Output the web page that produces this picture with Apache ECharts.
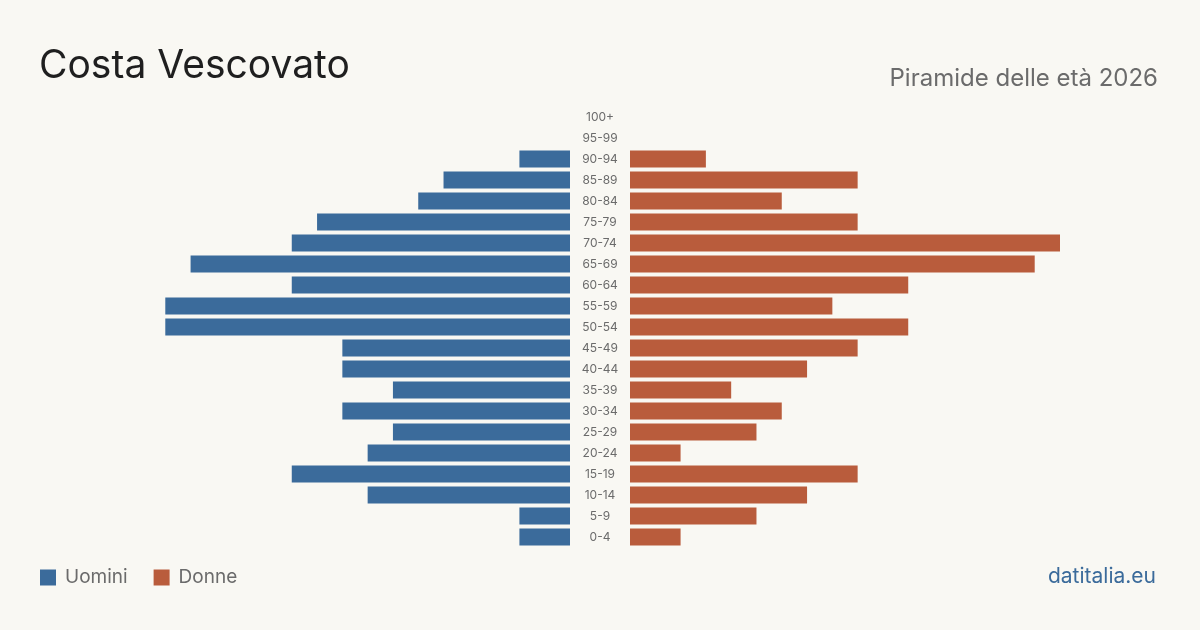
<!DOCTYPE html>
<html>
<head>
<meta charset="utf-8">
<script src="https://cdn.jsdelivr.net/npm/echarts@6/dist/echarts.min.js"></script>
<style>
html,body{margin:0;padding:0;background:#f9f8f3;}
#c{width:1200px;height:630px;}
</style>
</head>
<body>
<div id="c"></div>
<script>
const categories = ['0-4','5-9','10-14','15-19','20-24','25-29','30-34','35-39','40-44','45-49','50-54','55-59','60-64','65-69','70-74','75-79','80-84','85-89','90-94','95-99','100+'];
const uomini = [2,2,8,11,8,7,9,7,9,9,16,16,11,15,11,10,6,5,2,0,0];
const donne  = [2,5,7,9,2,5,6,4,7,9,11,8,11,16,17,9,6,9,3,0,0];
const axisMax = 17;

const FONT = 'Inter, "Noto Sans", sans-serif';
const chart = echarts.init(document.getElementById('c'), null, {renderer:'canvas'});
chart.setOption({
  backgroundColor: '#f9f8f3',
  animation: false,
  textStyle: {fontFamily: FONT},
  title: [
    {text: 'Costa Vescovato', left: 34, top: 42, textStyle: {fontFamily: FONT, fontSize: 39, fontWeight: 'normal', color: '#1f1f1f'}},
    {text: 'Piramide delle età 2026', right: 37, top: 62, textStyle: {fontFamily: FONT, fontSize: 24, fontWeight: 'normal', color: '#6b6b6b'}},
    {text: 'datitalia.eu', right: 39, top: 561, textStyle: {fontFamily: FONT, fontSize: 21, fontWeight: 'normal', color: '#3b6b9b'}}
  ],
  legend: {
    left: 35, top: 563, icon: 'rect', itemWidth: 16, itemHeight: 16, itemGap: 26,
    textStyle: {fontFamily: FONT, fontSize: 19, color: '#6b6b6b', padding: [0,0,0,4]},
    data: ['Uomini','Donne']
  },
  grid: [
    {left: 140, width: 430, top: 106.5, height: 441},
    {left: 630, width: 430, top: 106.5, height: 441}
  ],
  xAxis: [
    {gridIndex: 0, type: 'value', min: 0, max: axisMax, inverse: true, show: false},
    {gridIndex: 1, type: 'value', min: 0, max: axisMax, show: false}
  ],
  yAxis: [
    {gridIndex: 0, type: 'category', data: categories, show: false},
    {gridIndex: 1, type: 'category', data: categories, position: 'left',
     axisLine: {show: false}, axisTick: {show: false},
     axisLabel: {margin: 30, align: 'center', fontFamily: FONT, fontSize: 12, color: '#6b6b6b'}}
  ],
  series: [
    {name: 'Uomini', type: 'bar', xAxisIndex: 0, yAxisIndex: 0, data: uomini, barWidth: 17, itemStyle: {color: '#3b6b9b'}},
    {name: 'Donne', type: 'bar', xAxisIndex: 1, yAxisIndex: 1, data: donne, barWidth: 17, itemStyle: {color: '#b95c3c'}}
  ]
});
</script>
</body>
</html>
